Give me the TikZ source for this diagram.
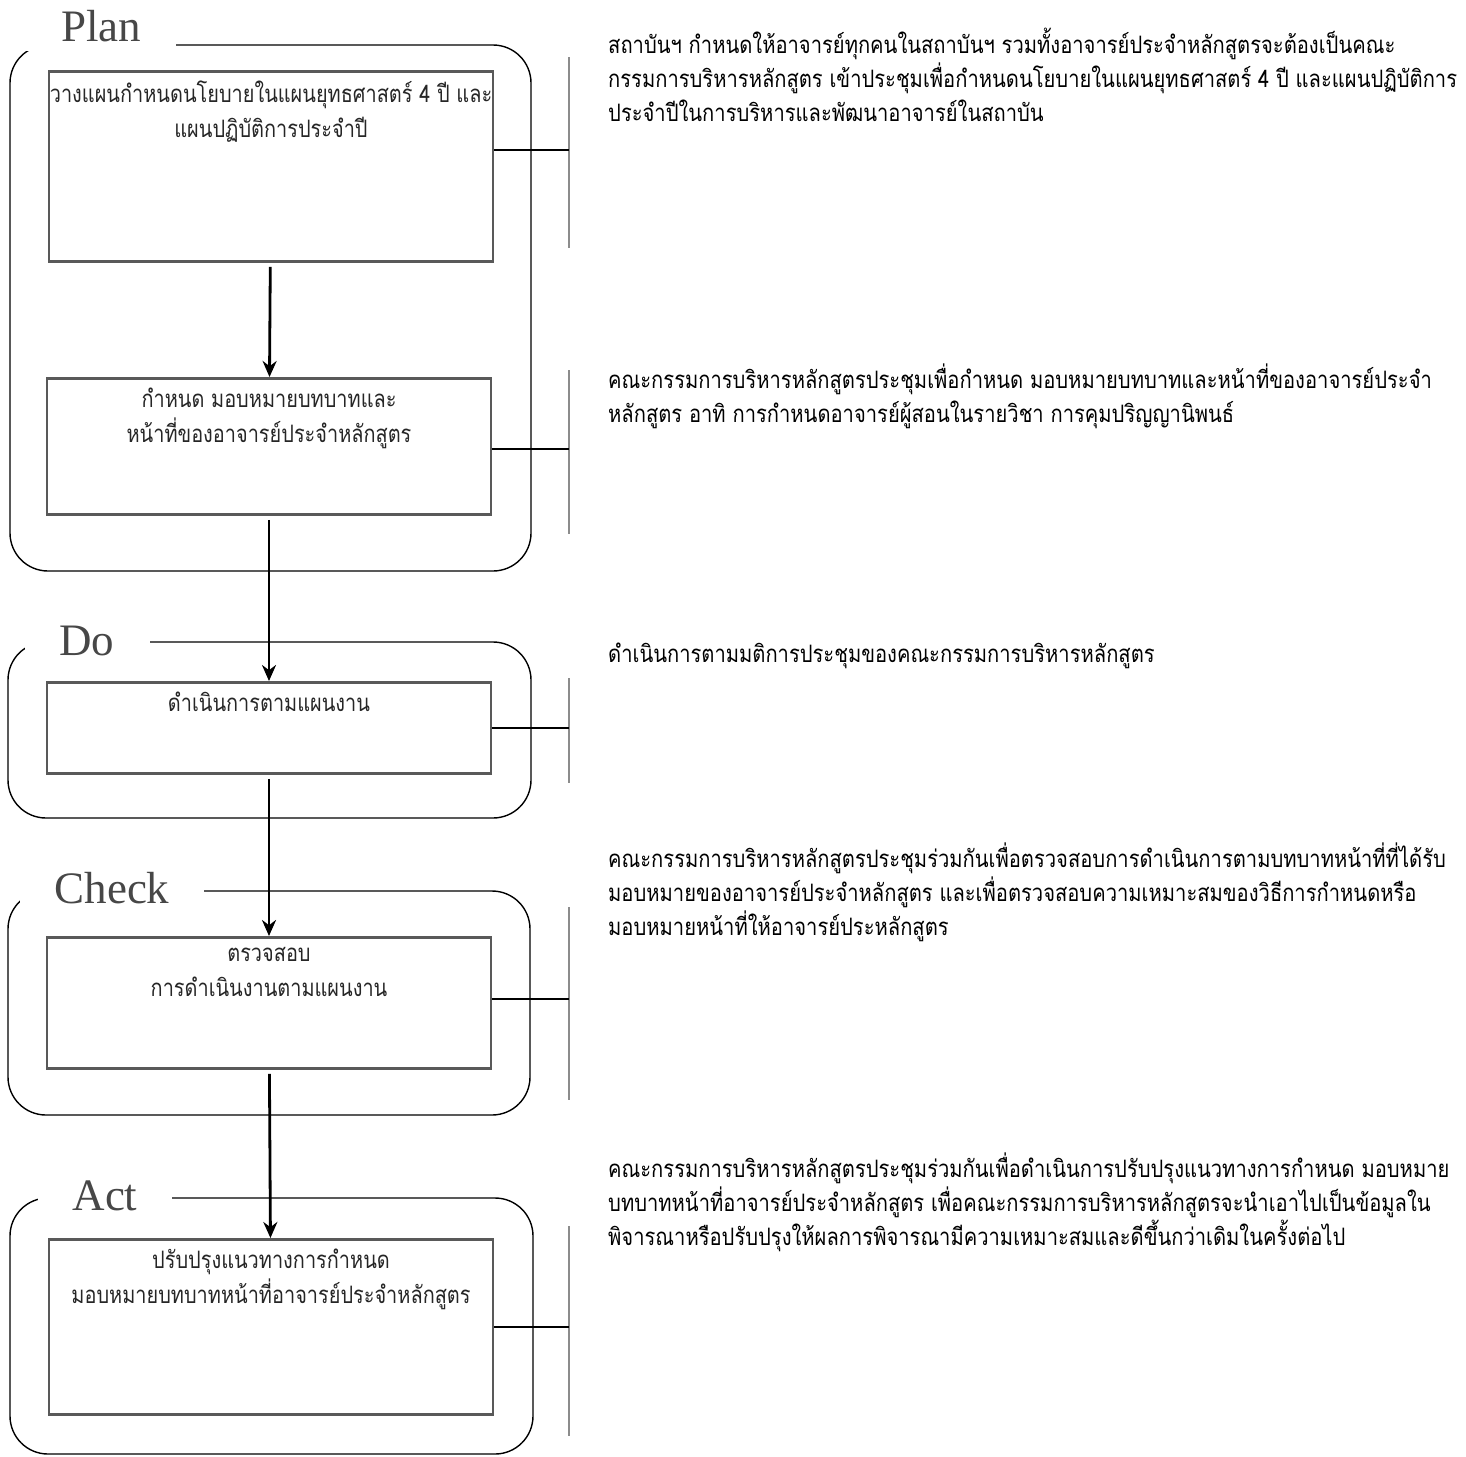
\documentclass[tikz,border=0pt]{standalone}
\usepackage{fontspec}
\setmainfont{Liberation Serif}
\newfontfamily\thaibox[Script=Thai, FakeStretch=0.83]{Loma}
\newfontfamily\thainote[Script=Thai, FakeStretch=0.84]{Loma}
\usetikzlibrary{arrows.meta}

\begin{document}
\begin{tikzpicture}[x=1pt, y=-1pt,
	frame/.style={draw, line width=1.4pt, rounded corners=38pt},
	stepbox/.style={draw=black!65, line width=2.8pt, anchor=north, minimum width=444pt, inner sep=0pt},
	boxtext/.style={font=\thaibox\fontsize{24}{35}\selectfont, text=black!85, align=center, inner sep=0pt},
	phase/.style={font=\fontsize{45}{45}\selectfont, text=black!72, fill=white, anchor=base, inner xsep=35pt, inner ysep=0pt},
	note/.style={font=\thainote\fontsize{24}{34}\selectfont, align=left, anchor=north west, inner sep=0pt},
	flow/.style={-{Stealth[length=16pt,width=14pt]}, line width=2.8pt, shorten <=4pt},
	link/.style={line width=2.8pt},
	sep/.style={draw=black!45, line width=1.3pt}]

\path[fill=white, use as bounding box] (0,0) rectangle (1466,1456);

% frames of the four phases
\draw[frame] (10,45) rectangle (531,571);
\draw[frame] (8,642) rectangle (531,818);
\draw[frame] (8,891) rectangle (530,1115);
\draw[frame] (10,1198) rectangle (533,1454);

\node[phase, inner ysep=10pt] (lplan) at (101,41) {Plan};
\node[phase] (ldo) at (87,655) {Do};
\node[phase] (lcheck) at (112,903) {Check};
\node[phase] (lact) at (105,1210) {Act};

% steps
\node[stepbox, minimum height=190pt, label={[boxtext, anchor=north, yshift=-11pt]north:{วางแผนกำหนดนโยบายในแผนยุทธศาสตร์ 4 ปี และ\\แผนปฏิบัติการประจำปี}}] (plan1) at (271,70) {};
\node[stepbox, minimum height=136pt, label={[boxtext, anchor=north, yshift=-11pt]north:{กำหนด มอบหมายบทบาทและ\\หน้าที่ของอาจารย์ประจำหลักสูตร}}] (plan2) at (269,377) {};
\node[stepbox, minimum height=91pt, label={[boxtext, anchor=north, yshift=-11pt]north:{ดำเนินการตามแผนงาน}}] (do) at (269,681) {};
\node[stepbox, minimum height=131pt, label={[boxtext, anchor=north, yshift=-11pt]north:{ตรวจสอบ\\การดำเนินงานตามแผนงาน}}] (check) at (269,936) {};
\node[stepbox, minimum height=175pt, label={[boxtext, anchor=north, yshift=-11pt]north:{ปรับปรุงแนวทางการกำหนด\\มอบหมายบทบาทหน้าที่อาจารย์ประจำหลักสูตร}}] (act) at (271,1238) {};

\draw[flow] (plan1) -- (plan2);
\draw[flow] (plan2) -- (do);
\draw[flow] (do) -- (check);
\draw[flow] (check) -- (act);

% separators and links
\foreach \n/\t/\m/\b in {plan1/57/150/248, plan2/370/449/534, do/678/728/783, check/907/999/1100, act/1226/1327/1436} {
	\draw[sep] (569,\t) -- (569,\b);
	\coordinate (s\n) at (569,\m);
	\draw[link] (\n.east |- s\n) -- (s\n);
}

% notes
\node[note] (nplan1) at (608,28) {สถาบันฯ กำหนดให้อาจารย์ทุกคนในสถาบันฯ รวมทั้งอาจารย์ประจำหลักสูตรจะต้องเป็นคณะ\\กรรมการบริหารหลักสูตร เข้าประชุมเพื่อกำหนดนโยบายในแผนยุทธศาสตร์ 4 ปี และแผนปฏิบัติการ\\ประจำปีในการบริหารและพัฒนาอาจารย์ในสถาบัน};
\node[note] (nplan2) at (608,364) {คณะกรรมการบริหารหลักสูตรประชุมเพื่อกำหนด มอบหมายบทบาทและหน้าที่ของอาจารย์ประจำ\\หลักสูตร อาทิ การกำหนดอาจารย์ผู้สอนในรายวิชา การคุมปริญญานิพนธ์};
\node[note] (ndo) at (608,643) {ดำเนินการตามมติการประชุมของคณะกรรมการบริหารหลักสูตร};
\node[note] (ncheck) at (608,843) {คณะกรรมการบริหารหลักสูตรประชุมร่วมกันเพื่อตรวจสอบการดำเนินการตามบทบาทหน้าที่ที่ได้รับ\\มอบหมายของอาจารย์ประจำหลักสูตร และเพื่อตรวจสอบความเหมาะสมของวิธีการกำหนดหรือ\\มอบหมายหน้าที่ให้อาจารย์ประหลักสูตร};
\node[note] (nact) at (608,1153) {คณะกรรมการบริหารหลักสูตรประชุมร่วมกันเพื่อดำเนินการปรับปรุงแนวทางการกำหนด มอบหมาย\\บทบาทหน้าที่อาจารย์ประจำหลักสูตร เพื่อคณะกรรมการบริหารหลักสูตรจะนำเอาไปเป็นข้อมูลใน\\พิจารณาหรือปรับปรุงให้ผลการพิจารณามีความเหมาะสมและดีขึ้นกว่าเดิมในครั้งต่อไป};
\end{tikzpicture}
\end{document}
